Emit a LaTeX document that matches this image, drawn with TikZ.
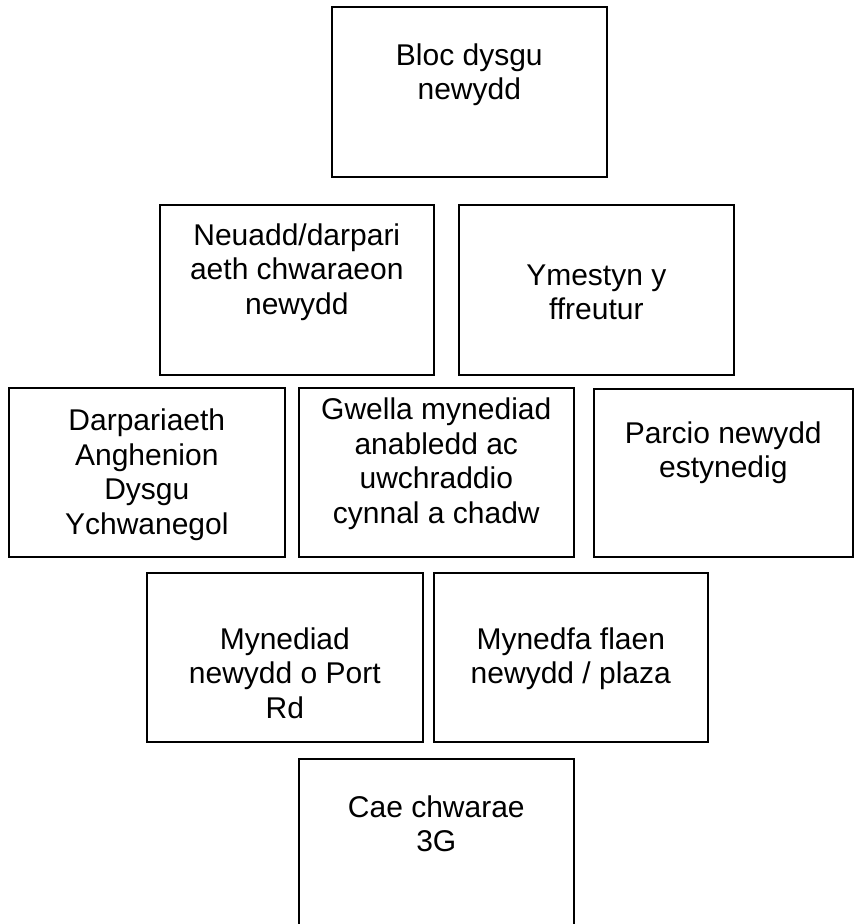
\documentclass[tikz,border=0pt]{standalone}
\usepackage{fontspec}
\setmainfont{Liberation Sans}
\usetikzlibrary{positioning}
\tikzset{
  blwch/.style={draw, line width=1.6pt, inner sep=0pt, anchor=north west},
  testun/.style={align=center, anchor=base, inner sep=0pt, font=\fontsize{30}{34.5}\selectfont}
}
\begin{document}
\begin{tikzpicture}[x=1pt,y=-1pt]
\useasboundingbox (0,0) rectangle (857,924);
% blychau
\node[blwch, minimum width=275pt, minimum height=170pt] (bloc) at (331,6) {};
\node[blwch, minimum width=274pt, minimum height=170pt] (neuadd) at (159,204) {};
\node[blwch, minimum width=275pt, minimum height=170pt] (ffreutur) at (458,204) {};
\node[blwch, minimum width=276pt, minimum height=169pt] (adysg) at (8,387) {};
\node[blwch, minimum width=275pt, minimum height=169pt] (gwella) at (298,387) {};
\node[blwch, minimum width=259pt, minimum height=168pt] (parcio) at (593,388) {};
\node[blwch, minimum width=276pt, minimum height=169pt] (porth) at (146,572) {};
\node[blwch, minimum width=274pt, minimum height=169pt] (mynedfa) at (433,572) {};
\node[blwch, minimum width=275pt, minimum height=180pt] (cae) at (298,758) {};
% testun (llinell olaf ar y llinell sylfaen)
\node[testun] (t-bloc) at ([yshift=-93.5pt]bloc.north) {Bloc dysgu\\newydd};
\node[testun] (t-neuadd) at ([yshift=-110pt]neuadd.north) {Neuadd/darpari\\aeth chwaraeon\\newydd};
\node[testun] (t-ffreutur) at ([yshift=-115.5pt]ffreutur.north) {Ymestyn y\\ffreutur};
\node[testun] (t-adysg) at ([yshift=-147pt]adysg.north) {Darpariaeth\\Anghenion\\Dysgu\\Ychwanegol};
\node[testun] (t-gwella) at ([yshift=-136pt]gwella.north) {Gwella mynediad\\anabledd ac\\uwchraddio\\cynnal a chadw};
\node[testun] (t-parcio) at ([yshift=-89.5pt]parcio.north) {Parcio newydd\\estynedig};
\node[testun] (t-porth) at ([yshift=-146pt]porth.north) {Mynediad\\newydd o Port\\Rd};
\node[testun] (t-mynedfa) at ([yshift=-111.5pt]mynedfa.north) {Mynedfa flaen\\newydd / plaza};
\node[testun] (t-cae) at ([yshift=-93.5pt]cae.north) {Cae chwarae\\3G};
\end{tikzpicture}
\end{document}
